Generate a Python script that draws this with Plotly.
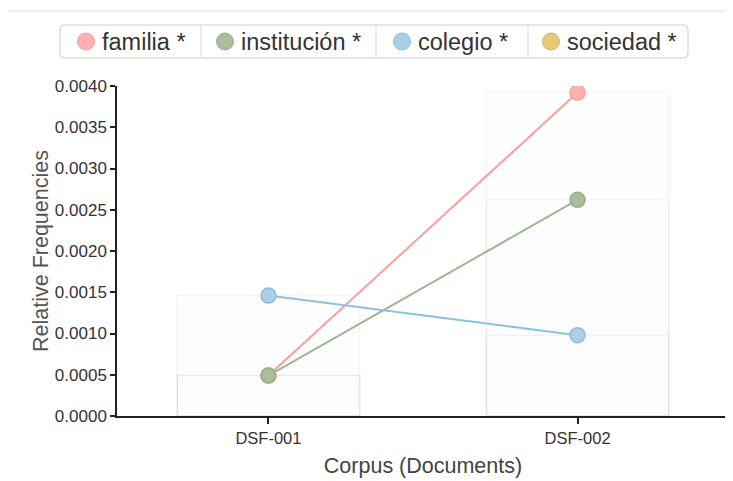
import plotly.graph_objects as go

# ---- data ----
documents = ["DSF-001", "DSF-002"]
series_names = ["familia *", "institución *", "colegio *", "sociedad *"]
familia = [0.00049, 0.00392]
institucion = [0.00049, 0.00262]
colegio = [0.00146, 0.00098]
sociedad = [None, None]  # no visible marks in the reference
y_ticks = [0.0, 0.0005, 0.0010, 0.0015, 0.0020, 0.0025, 0.0030, 0.0035, 0.0040]

series_values = [familia, institucion, colegio, sociedad]
line_colors = ["#ff9c9c", "#9fb693", "#8ec0dc", "#e0c172"]
marker_fill = ["#ffb0b0", "#a9bd9c", "#a9d0e6", "#e6c878"]
marker_line = ["#f4a0a0", "#98ad8c", "#90bcd6", "#d4b466"]
bar_outline = ["rgba(255,150,150,0.12)", "rgba(150,160,150,0.10)",
               "rgba(140,180,220,0.12)", "rgba(220,190,110,0.12)"]

OFF = 8  # page body margin
W, H = 733 - OFF, 481 - OFF
L, T = 117 - OFF, 86 - OFF
pw, ph = 612, 330
R = W - L - pw
B = H - T - ph
FONT = "Liberation Sans, Arial, sans-serif"


def px(x):  # page x -> paper
    return (x - OFF - L) / pw


def py(y):  # page y -> paper
    return (H - B - (y - OFF)) / ph


fig = go.Figure()

for name, vals, oc in zip(series_names, series_values, bar_outline):
    fig.add_trace(go.Bar(
        x=documents, y=vals, width=0.59,
        marker=dict(color="rgba(225,225,225,0.025)", line=dict(color=oc, width=1.5)),
        showlegend=False, hoverinfo="skip",
    ))

for name, vals, lc, mf, ml in zip(series_names, series_values, line_colors, marker_fill, marker_line):
    fig.add_trace(go.Scatter(
        x=documents, y=vals, mode="lines+markers", name=name,
        line=dict(color=lc, width=2),
        marker=dict(size=15, color=mf, line=dict(color=ml, width=1.5)),
        showlegend=False,
    ))

shapes = []
annotations = []

shapes.append(dict(type="line", xref="paper", yref="paper",
                   x0=px(4), x1=px(740), y0=py(11), y1=py(11),
                   line=dict(color="#f2f2f2", width=3), layer="above"))

lx0, lx1, ly0, ly1, rr = 60, 688, 25, 58, 4
path = (f"M {px(lx0 + rr)},{py(ly0)} L {px(lx1 - rr)},{py(ly0)} "
        f"Q {px(lx1)},{py(ly0)} {px(lx1)},{py(ly0 + rr)} "
        f"L {px(lx1)},{py(ly1 - rr)} Q {px(lx1)},{py(ly1)} {px(lx1 - rr)},{py(ly1)} "
        f"L {px(lx0 + rr)},{py(ly1)} Q {px(lx0)},{py(ly1)} {px(lx0)},{py(ly1 - rr)} "
        f"L {px(lx0)},{py(ly0 + rr)} Q {px(lx0)},{py(ly0)} {px(lx0 + rr)},{py(ly0)} Z")
shapes.append(dict(type="path", xref="paper", yref="paper", path=path,
                   line=dict(color="#cccccc", width=1), fillcolor="white"))
for dx in [201, 376, 528]:
    shapes.append(dict(type="line", xref="paper", yref="paper",
                       x0=px(dx), x1=px(dx), y0=py(ly0 + 1), y1=py(ly1 - 1),
                       line=dict(color="#d6d6d6", width=1)))

circle_x = [86, 225, 402, 551]
text_x = [100, 239, 416, 565]
cy = 41.5
rad = 8.5
for cx, tx, name, mf, ml in zip(circle_x, text_x, series_names, marker_fill, marker_line):
    shapes.append(dict(type="circle", xref="paper", yref="paper",
                       x0=px(cx - rad), x1=px(cx + rad), y0=py(cy - rad), y1=py(cy + rad),
                       fillcolor=mf, line=dict(color=ml, width=1)))
    annotations.append(dict(xref="paper", yref="paper", x=px(tx), y=py(cy),
                            xanchor="left", yanchor="middle", showarrow=False,
                            text=name, font=dict(size=23.5, color="#333333", family=FONT)))

fig.update_layout(
    width=W, height=H,
    margin=dict(l=L, r=R, t=T, b=B),
    paper_bgcolor="white", plot_bgcolor="white",
    barmode="overlay",
    font=dict(family=FONT, color="#333333"),
    shapes=shapes, annotations=annotations,
    xaxis=dict(
        type="category", range=[-0.49, 1.49],
        showline=True, linecolor="#222222", linewidth=1.5,
        ticks="outside", ticklen=6, tickcolor="#222222", tickwidth=1.5,
        showgrid=False, zeroline=False,
        tickfont=dict(size=16.5, color="#333333"),
        title=dict(text="Corpus (Documents)", font=dict(size=21.5, color="#444444"), standoff=12),
    ),
    yaxis=dict(
        range=[0, 0.0040],
        tickvals=y_ticks, tickformat=".4f",
        showline=True, linecolor="#222222", linewidth=1.5,
        ticks="outside", ticklen=5, tickcolor="#222222", tickwidth=1.5,
        showgrid=False, zeroline=False,
        tickfont=dict(size=17, color="#333333"),
        title=dict(text="Relative Frequencies", font=dict(size=21.5, color="#555555"), standoff=0),
    ),
)

fig.write_html("out.html")
